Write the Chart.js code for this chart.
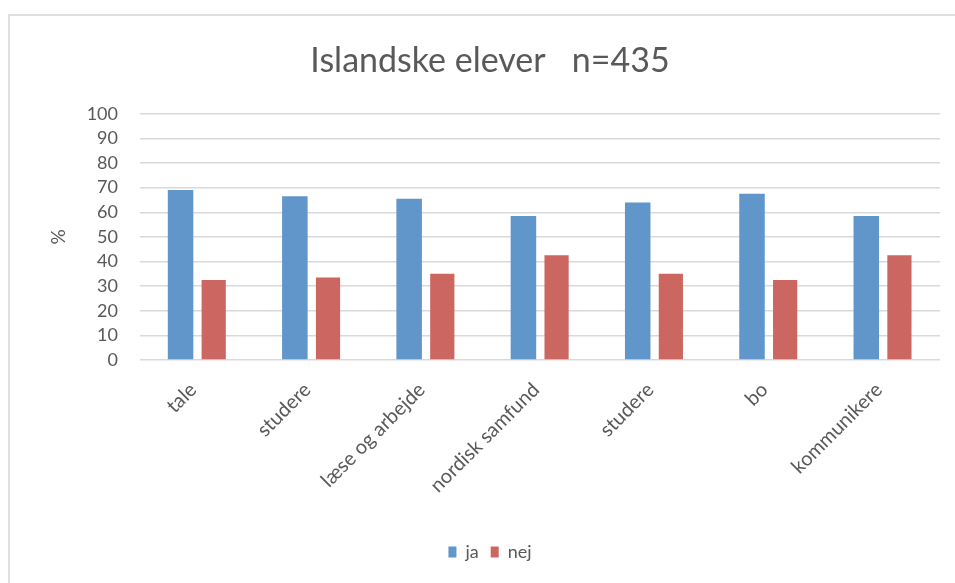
<!DOCTYPE html>
<html>
<head>
<meta charset="utf-8">
<script src="https://cdn.jsdelivr.net/npm/chart.js@4"></script>
<style>
  html, body { margin: 0; padding: 0; background: #fff; }
  #wrap { position: relative; width: 955px; height: 583px; overflow: hidden; }
  #frame { position: absolute; left: 8px; top: 14px; width: 1000px; height: 600px;
           border-left: 2px solid #e0e0e0; border-top: 2px solid #e0e0e0; }
  canvas { position: absolute; left: 0; top: 0; }
</style>
</head>
<body>
<div id="wrap">
  <div id="frame"></div>
  <canvas id="chart" width="955" height="583"></canvas>
</div>
<script>
let categories = ["tale", "studere", "læse og arbejde", "nordisk samfund", "studere", "bo", "kommunikere"];
let ja = [69, 66.5, 65.5, 58.5, 64, 67.5, 58.5];
let nej = [32.5, 33.5, 35, 42.5, 35, 32.5, 42.5];
let yTicks = [0, 10, 20, 30, 40, 50, 60, 70, 80, 90, 100];

let grey = "#595959";
let font = "Lato, sans-serif";

new Chart(document.getElementById("chart"), {
  type: "bar",
  data: {
    labels: categories,
    datasets: [
      { label: "ja", data: ja, backgroundColor: "#6096c9", categoryPercentage: 0.58, barPercentage: 0.77 },
      { label: "nej", data: nej, backgroundColor: "#cc6660", categoryPercentage: 0.58, barPercentage: 0.73 }
    ]
  },
  options: {
    responsive: false,
    animation: false,
    layout: { padding: { left: 40, right: 15, top: 0, bottom: 12 } },
    plugins: {
      title: {
        display: true,
        text: "Islandske elever   n=435",
        color: grey,
        font: { family: font, size: 34, weight: "normal" },
        padding: { top: 41, bottom: 32 }
      },
      legend: {
        position: "bottom",
        labels: {
          color: grey,
          font: { family: font, size: 18 },
          boxWidth: 8,
          boxHeight: 11,
          padding: 12
        }
      },
      tooltip: { enabled: false }
    },
    scales: {
      x: {
        grid: { display: false },
        border: { display: false },
        ticks: {
          color: grey,
          font: { family: font, size: 20 },
          minRotation: 45,
          maxRotation: 45,
          autoSkip: false,
          padding: 10,
          labelOffset: -4
        },
        afterFit: s => { s.height = 171; }
      },
      y: {
        min: 0,
        max: 100,
        afterBuildTicks: s => { s.ticks = yTicks.map(v => ({ value: v })); },
        grid: { color: "#d9d9d9", lineWidth: 1.5, drawTicks: false },
        border: { display: false },
        ticks: {
          color: grey,
          font: { family: font, size: 18 },
          padding: 22,
          autoSkip: false
        },
        title: {
          display: true,
          text: "%",
          color: grey,
          font: { family: font, size: 19 },
          padding: { top: 7, bottom: 0 }
        },
        afterFit: s => { s.width = 100; }
      }
    }
  }
});
</script>
</body>
</html>
